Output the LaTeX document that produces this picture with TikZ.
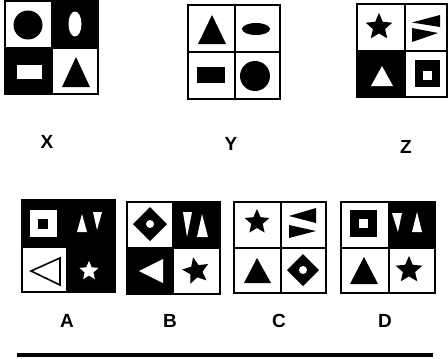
\documentclass[tikz,border=0pt]{standalone}
\usepackage{fontspec}
\setmainfont{Liberation Sans}
\tikzset{
  frame/.style={line width=2.2pt, draw=black},
  divider/.style={line width=1.6pt, draw=black},
  lab/.style={font=\bfseries\fontsize{19}{19}\selectfont, inner sep=0pt, anchor=center},
  rule/.style={line width=3.2pt, draw=black}
}
% star: cx, cy, outer radius, colour, rotation
\newcommand\DrawStar[5]{%
  \fill[#4, shift={(#1,#2)}, rotate=#5] (-90:#3) -- (-54:{0.46*#3}) -- (-18:#3) -- (18:{0.46*#3}) -- (54:#3) -- (90:{0.46*#3}) -- (126:#3) -- (162:{0.46*#3}) -- (198:#3) -- (234:{0.46*#3}) -- cycle;}
% diamond with round hole: cx, cy, half diagonal
\newcommand\DrawDiamond[3]{%
  \fill[black, shift={(#1,#2)}] (0,-#3) -- (#3,0) -- (0,#3) -- (-#3,0) -- cycle;
  \fill[white] (#1,#2) circle [radius=4];}
% frame with dividers: x0,y0,x1,y1,mx,my
\newcommand\DrawFrame[6]{%
  \draw[divider] (#5,#2) -- (#5,#4) (#1,#6) -- (#3,#6);
  \draw[frame] (#1,#2) rectangle (#3,#4);}
\begin{document}
\begin{tikzpicture}[x=1pt,y=-1pt]
\useasboundingbox (0,0) rectangle (448,359);
\fill[white] (0,0) rectangle (448,359);

% ---------- X ----------
\fill (52,1) rectangle (98,48);
\fill (5,48) rectangle (52,94);
\fill (28,25) circle [radius=14.5];
\fill[white] (75,24) ellipse [x radius=6.5, y radius=12.5];
\fill[white] (17,65) rectangle (42,79);
\fill (76,57) -- (62,87) -- (90,87) -- cycle;
\DrawFrame{5}{1}{98}{94}{52}{48}

% ---------- Y ----------
\fill (212,15) -- (198,44) -- (226,44) -- cycle;
\fill (256,29) ellipse [x radius=14, y radius=6];
\fill (197,67) rectangle (225,83);
\fill (255,76) circle [radius=15];
\DrawFrame{188}{5}{280}{99}{235}{52}

% ---------- Z ----------
\fill (357,51) rectangle (405,97);
\DrawStar{379}{27}{14}{black}{0}
\fill (412,22.5) -- (440,15) -- (440,27) -- cycle;
\fill (412,28) -- (412,42) -- (438,33) -- cycle;
\fill[white] (382,66) -- (371,86) -- (393,86) -- cycle;
\fill (415,60) rectangle (440,87);
\fill[white] (423,71) rectangle (432,80);
\DrawFrame{357}{4}{447}{97}{405}{51}

% ---------- A ----------
\fill (22,200) rectangle (115,292);
\fill[white] (22,247) rectangle (67,292);
\fill[white] (30,210) rectangle (57,237);
\fill (38,219) rectangle (48,229);
\fill[white] (82,214) -- (77,232) -- (87,232) -- cycle;
\fill[white] (93,212) -- (102,212) -- (97,230) -- cycle;
\draw[line width=1.6pt, line join=miter] (31,271) -- (60,258) -- (60,285) -- cycle;
\DrawStar{89}{271}{10}{white}{0}
\DrawFrame{22}{200}{115}{292}{67}{247}

% ---------- B ----------
\fill (173,202) rectangle (220,248);
\fill (127,248) rectangle (173,294);
\DrawDiamond{150}{224}{17}
\fill[white] (183,212) -- (192,212) -- (187,237) -- cycle;
\fill[white] (202,214) -- (208,237) -- (197,237) -- cycle;
\fill[white] (139,271) -- (163,259) -- (163,283) -- cycle;
\DrawStar{196}{271}{14}{black}{12}
\DrawFrame{127}{202}{220}{294}{173}{248}

% ---------- C ----------
\DrawStar{257}{222}{13}{black}{0}
\fill (289,216) -- (316,208) -- (316,223) -- cycle;
\fill (289,225) -- (289,238) -- (316,231) -- cycle;
\fill (257,258) -- (244,283) -- (271,283) -- cycle;
\DrawDiamond{303}{270}{16}
\DrawFrame{234}{202}{326}{293}{281}{248}

% ---------- D ----------
\fill (389,202) rectangle (435,248);
\fill (350,210) rectangle (377,237);
\fill[white] (359,219) rectangle (368,228);
\fill[white] (392,213) -- (402,213) -- (398,232) -- cycle;
\fill[white] (417,212) -- (422,232) -- (412,232) -- cycle;
\fill (364,257) -- (350,284) -- (378,284) -- cycle;
\DrawStar{409}{270}{14}{black}{0}
\DrawFrame{341}{202}{435}{293}{389}{248}

% ---------- labels ----------
\node[lab] (labX) at (47,142) {X};
\node[lab] (labY) at (231,144) {Y};
\node[lab] (labZ) at (406,147) {Z};
\node[lab] (labA) at (67,321) {A};
\node[lab] (labB) at (170,321) {B};
\node[lab] (labC) at (279,321) {C};
\node[lab] (labD) at (385,321) {D};

% ---------- bottom rule ----------
\coordinate (ruleL) at (17,355);
\coordinate (ruleR) at (433,355);
\draw[rule] (ruleL) -- (ruleR);
\end{tikzpicture}
\end{document}
